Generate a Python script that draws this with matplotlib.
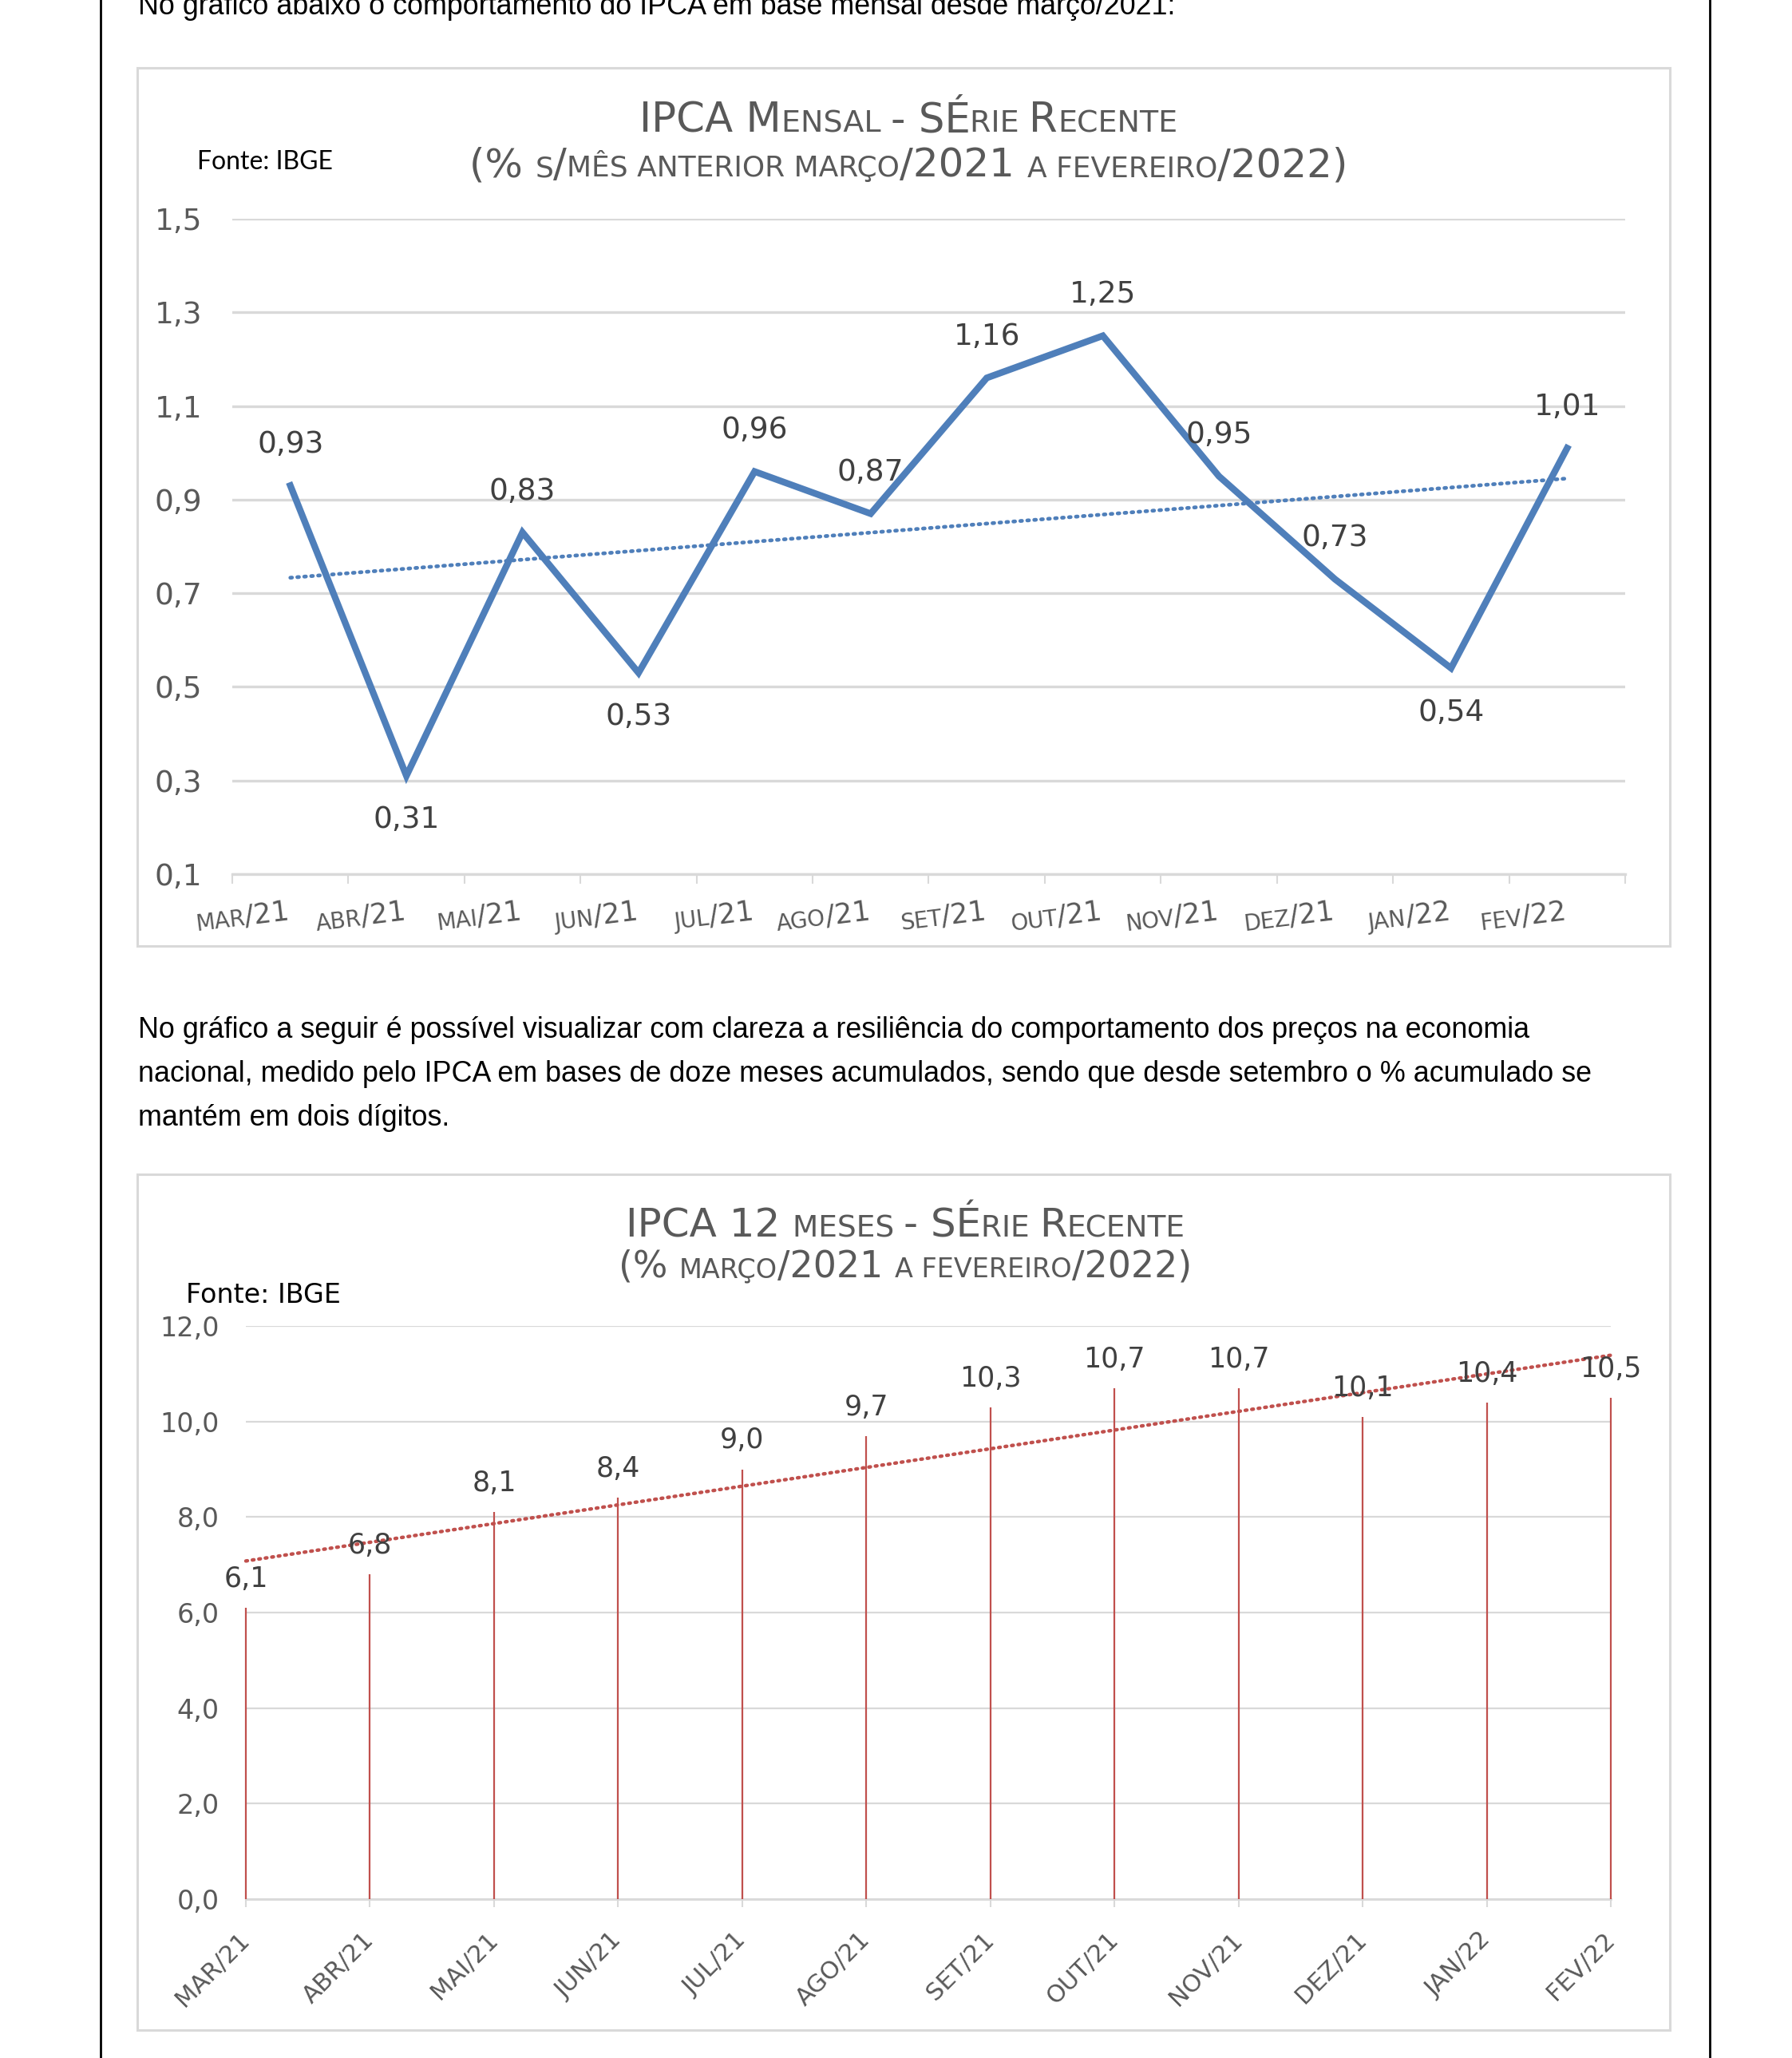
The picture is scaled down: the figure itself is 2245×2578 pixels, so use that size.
import numpy as np
import matplotlib
matplotlib.use('Agg')
import matplotlib.pyplot as plt
from matplotlib.patches import Rectangle
from matplotlib.lines import Line2D

W, H = 2245, 2578

meses = ['MAR/21', 'ABR/21', 'MAI/21', 'JUN/21', 'JUL/21', 'AGO/21',
         'SET/21', 'OUT/21', 'NOV/21', 'DEZ/21', 'JAN/22', 'FEV/22']
ipca_mensal = [0.93, 0.31, 0.83, 0.53, 0.96, 0.87,
               1.16, 1.25, 0.95, 0.73, 0.54, 1.01]
# rotulo acima (1) ou abaixo (-1) do ponto
lado_rotulo = [1, -1, 1, -1, 1, 1, 1, 1, 1, 1, -1, 1]
ipca_12m = [6.1, 6.8, 8.1, 8.4, 9.0, 9.7, 10.3, 10.7, 10.7, 10.1, 10.4, 10.5]
ticks_mensal = [0.1, 0.3, 0.5, 0.7, 0.9, 1.1, 1.3, 1.5]
ticks_12m = [0, 2, 4, 6, 8, 10, 12]

titulo1 = 'IPCA Mensal - SÉrie Recente'
subtitulo1 = '(% s/mês anterior março/2021 a fevereiro/2022)'
titulo2 = 'IPCA 12 meses - SÉrie Recente'
subtitulo2 = '(% março/2021 a fevereiro/2022)'
fonte = 'Fonte: IBGE'

texto_topo = 'No gráfico abaixo o comportamento do IPCA em base mensal desde março/2021:'
paragrafo = [
    'No gráfico a seguir é possível visualizar com clareza a resiliência do comportamento dos preços na economia',
    'nacional, medido pelo IPCA em bases de doze meses acumulados, sendo que desde setembro o % acumulado se',
    'mantém em dois dígitos.',
]

AZUL = '#4F7FBA'
VERMELHO = '#C0504D'
CINZA_TXT = '#595959'
CINZA_ROT = '#404040'
GRADE = '#D9D9D9'
PONTILHADO = (0, (0.45, 1.4))


def virgula(v, casas):
    return f'{v:.{casas}f}'.replace('.', ',')


def largura(fig, txt, size, family):
    r = fig.canvas.get_renderer()
    t1 = fig.text(0, 0, '|' + txt + '|', fontsize=size, family=family)
    t2 = fig.text(0, 0, '||', fontsize=size, family=family)
    w = t1.get_window_extent(r).width - t2.get_window_extent(r).width
    t1.remove()
    t2.remove()
    return w


def versalete(texto):
    partes = []
    for ch in texto:
        peq = ch.islower()
        c = ch.upper() if peq else ch
        if partes and (ch == ' ' or partes[-1][1] == peq):
            partes[-1][0] += c
        else:
            partes.append([c, peq])
    return partes


def escreve_partes(fig, x, y, partes, size, fator, rot=0, ha='center',
                   color=CINZA_TXT, family='DejaVu Sans'):
    # x, y em pixels, y medido a partir do topo (baseline)
    y_up = H - y
    sizes = [size * fator if peq else size for _, peq in partes]
    ws = [largura(fig, t, s, family) for (t, _), s in zip(partes, sizes)]
    total = sum(ws)
    a = np.deg2rad(rot)
    pos = {'center': -total / 2, 'right': -total}.get(ha, 0)
    for (t, _), s, w in zip(partes, sizes, ws):
        px = x + pos * np.cos(a)
        py = y_up + pos * np.sin(a)
        fig.text(px / W, py / H, t, fontsize=s, color=color, family=family,
                 rotation=rot, rotation_mode='anchor', ha='left', va='baseline')
        pos += w


def caixa(fig, x0, y0, x1, y1):
    fig.add_artist(Rectangle((x0 / W, 1 - y1 / H), (x1 - x0) / W, (y1 - y0) / H,
                             transform=fig.transFigure, fill=False,
                             edgecolor=GRADE, lw=2.2))


def eixo(fig, x0, y0, x1, y1):
    return fig.add_axes([x0 / W, 1 - y1 / H, (x1 - x0) / W, (y1 - y0) / H])


fig = plt.figure(figsize=(W / 100, H / 100), dpi=100)
fig.patch.set_facecolor('white')

# linhas pretas da pagina
for xl in [126, 2142]:
    fig.add_artist(Line2D([xl / W, xl / W], [0, 1], color='black', lw=2,
                          transform=fig.transFigure))

# textos da pagina
fig.text(173 / W, 1 - 18 / H, texto_topo, fontsize=25.8, family='Liberation Sans',
         ha='left', va='baseline', color='black')
for i, linha in enumerate(paragrafo):
    fig.text(173 / W, 1 - (1300 + 55 * i) / H, linha, fontsize=25.8,
             family='Liberation Sans', ha='left', va='baseline', color='black')

# ---------------- grafico 1: IPCA mensal ----------------
caixa(fig, 172, 85, 2092, 1185)
ax1 = eixo(fig, 291, 274, 2036, 1095)
x = np.arange(len(meses))
ax1.set_xlim(-0.5, len(meses) - 0.5)
ax1.set_ylim(0.1, 1.5)
ax1.set_yticks(ticks_mensal)
ax1.set_yticklabels([virgula(t, 1) for t in ticks_mensal])
ax1.set_xticks(np.arange(-0.5, len(meses)))
ax1.set_xticklabels([])
for s in ['top', 'right', 'left']:
    ax1.spines[s].set_visible(False)
ax1.spines['bottom'].set_color(GRADE)
ax1.spines['bottom'].set_linewidth(2.4)
ax1.yaxis.grid(True, color=GRADE, lw=2.4)
ax1.set_axisbelow(True)
ax1.tick_params(axis='y', length=0, pad=27, labelsize=27, labelcolor=CINZA_TXT)
ax1.tick_params(axis='x', length=8.5, width=1.5, color=GRADE, direction='out')

coef = np.polyfit(x, ipca_mensal, 1)
ax1.plot([x[0], x[-1]], np.polyval(coef, [x[0], x[-1]]), color=AZUL, lw=3.4,
         linestyle=PONTILHADO, dash_capstyle='round', zorder=2)
ax1.plot(x, ipca_mensal, color=AZUL, lw=6, solid_joinstyle='miter', zorder=3)
for xi, v, lado in zip(x, ipca_mensal, lado_rotulo):
    ax1.annotate(virgula(v, 2), (xi, v), xytext=(0, 37 if lado > 0 else -40),
                 textcoords='offset points', ha='center', va='center',
                 fontsize=27, color=CINZA_ROT, family='DejaVu Sans', zorder=4)

fig.text(247 / W, 1 - 212 / H, fonte, fontsize=23, family='Lato',
         ha='left', va='baseline', color='black')
escreve_partes(fig, 1138, 165, versalete(titulo1), 37, 0.74)
escreve_partes(fig, 1138, 221, versalete(subtitulo1), 36, 0.72)

# rotulos do eixo x (versalete, levemente inclinados)
for xi, m in zip(x, meses):
    px, _ = ax1.transData.transform((xi, 0.1))
    mes, ano = m.split('/')
    escreve_partes(fig, px, 1152, [[mes, True], ['/' + ano, False]], 25, 0.8,
                   rot=7, ha='right')

# ---------------- grafico 2: IPCA 12 meses ----------------
caixa(fig, 172, 1471, 2092, 2543)
ax2 = eixo(fig, 308, 1661, 2018, 2379)
ax2.set_xlim(0, len(meses) - 1)
ax2.set_ylim(0, 12)
ax2.set_yticks(ticks_12m)
ax2.set_yticklabels([virgula(t, 1) for t in ticks_12m])
ax2.set_xticks(x)
ax2.set_xticklabels(meses, rotation=45, ha='right', va='center',
                    rotation_mode='anchor')
for s in ['top', 'right', 'left']:
    ax2.spines[s].set_visible(False)
ax2.spines['bottom'].set_color(GRADE)
ax2.spines['bottom'].set_linewidth(2)
ax2.yaxis.grid(True, color=GRADE, lw=1.6)
ax2.set_axisbelow(True)
ax2.tick_params(axis='y', length=0, pad=24, labelsize=24, labelcolor=CINZA_TXT)
ax2.tick_params(axis='x', length=15, width=1.5, color=GRADE, direction='inout',
                pad=26, labelsize=22, labelcolor=CINZA_TXT)

ax2.vlines(x, 0, ipca_12m, color=VERMELHO, lw=1.6, zorder=3, clip_on=False)
coef2 = np.polyfit(x, ipca_12m, 1)
ax2.plot([x[0], x[-1]], np.polyval(coef2, [x[0], x[-1]]), color=VERMELHO,
         lw=3.2, linestyle=PONTILHADO, dash_capstyle='round', zorder=2,
         clip_on=False)
for xi, v in zip(x, ipca_12m):
    ax2.annotate(virgula(v, 1), (xi, v), xytext=(0, 26),
                 textcoords='offset points', ha='center', va='center',
                 fontsize=25, color=CINZA_ROT, family='DejaVu Sans', zorder=4)

fig.text(233 / W, 1 - 1632 / H, fonte, fontsize=24, family='DejaVu Sans',
         ha='left', va='baseline', color='black')
escreve_partes(fig, 1134, 1549, versalete(titulo2), 36, 0.75)
escreve_partes(fig, 1134, 1600, versalete(subtitulo2), 33, 0.73)

fig.savefig('out.png', dpi=100, facecolor='white')
